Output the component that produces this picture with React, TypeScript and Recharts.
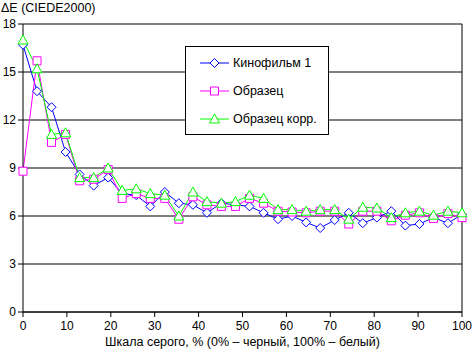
import React from 'react';
import { LineChart, Line, XAxis, YAxis, CartesianGrid, Legend, ReferenceLine } from 'recharts';

// gray level, % (32 steps)
const grayLevels = [
  0, 3.2, 6.5, 9.7, 12.9, 16.1, 19.4, 22.6, 25.8, 29.0, 32.3, 35.5, 38.7, 41.9, 45.2, 48.4,
  51.6, 54.8, 58.1, 61.3, 64.5, 67.7, 71.0, 74.2, 77.4, 80.6, 83.9, 87.1, 90.3, 93.5, 96.8, 100,
];

// ΔE values
const filmValues = [
  16.7, 13.8, 12.8, 10.0, 8.6, 7.9, 8.4, 7.4, 7.3, 6.6, 7.5, 6.8, 6.7, 6.2, 6.8, 6.7,
  6.6, 6.2, 5.8, 6.0, 5.6, 5.25, 5.75, 6.2, 5.55, 5.9, 6.3, 5.4, 5.5, 5.9, 5.55, 6.1,
];
const sampleValues = [
  8.8, 15.7, 10.6, 11.1, 8.2, 8.3, 8.9, 7.1, 7.4, 7.1, 7.1, 5.8, 7.2, 6.7, 6.6, 6.6,
  7.1, 6.8, 6.3, 6.25, 6.2, 6.3, 6.3, 5.5, 6.3, 6.3, 5.7, 6.05, 6.2, 5.85, 6.15, 5.9,
];
const sampleCorrValues = [
  17.0, 15.2, 11.1, 11.2, 8.4, 8.4, 9.0, 7.6, 7.7, 7.4, 7.3, 6.0, 7.5, 6.9, 6.8, 6.9,
  7.3, 7.1, 6.4, 6.4, 6.3, 6.4, 6.4, 5.8, 6.55, 6.5, 5.9, 6.2, 6.3, 6.05, 6.3, 6.2,
];

const xTicks = [0, 10, 20, 30, 40, 50, 60, 70, 80, 90, 100];
const yTicks = [0, 3, 6, 9, 12, 15, 18];

const seriesNames = ['Кинофильм 1', 'Образец', 'Образец корр.'];
const seriesColors = ['#0000ff', '#ff00ff', '#00ff00'];
const seriesShapes = ['diamond', 'square', 'triangle'];

const FONT = '"Liberation Sans", Arial, sans-serif';

const data = grayLevels.map((x, i) => ({
  x,
  film: filmValues[i],
  sample: sampleValues[i],
  corr: sampleCorrValues[i],
}));

const Marker = ({ cx, cy, shape, color }: { cx: number; cy: number; shape: string; color: string }) => {
  let d = '';
  if (shape === 'diamond') d = `M${cx},${cy - 4.5}L${cx + 4.5},${cy}L${cx},${cy + 4.5}L${cx - 4.5},${cy}Z`;
  else if (shape === 'square') d = `M${cx - 4},${cy - 4}H${cx + 4}V${cy + 4}H${cx - 4}Z`;
  else d = `M${cx},${cy - 5}L${cx + 5},${cy + 4}H${cx - 5}Z`;
  return <path d={d} fill="#fff" stroke={color} strokeWidth={1} />;
};

const renderDot = (shape: string, color: string) => (p: any) =>
  <Marker key={p.index} cx={p.cx} cy={p.cy} shape={shape} color={color} />;

const LegendBox = () => (
  <div
    style={{
      width: 144,
      height: 89,
      boxSizing: 'border-box',
      border: '1px solid #000',
      background: '#fff',
      paddingTop: 2,
      fontFamily: FONT,
      fontSize: 12.5,
      color: '#000',
    }}
  >
    {seriesNames.map((name, i) => (
      <div key={name} style={{ display: 'flex', alignItems: 'center', height: 28 }}>
        <svg width={30} height={14} style={{ marginLeft: 14 }}>
          <line x1={0} y1={7} x2={29} y2={7} stroke={seriesColors[i]} />
          <Marker cx={14.5} cy={7} shape={seriesShapes[i]} color={seriesColors[i]} />
        </svg>
        <span style={{ marginLeft: 3 }}>{name}</span>
      </div>
    ))}
  </div>
);

export default function App() {
  return (
    <div style={{ position: 'absolute', left: 0, top: 0, background: '#fff' }}>
      <LineChart width={472} height={353} data={data} margin={{ top: 24, right: 10, bottom: 0, left: 0 }}>
        <CartesianGrid vertical={false} stroke="#000" />
        <XAxis
          dataKey="x"
          type="number"
          domain={[0, 100]}
          ticks={xTicks}
          height={41}
          axisLine={{ stroke: '#000' }}
          tickLine={{ stroke: '#000' }}
          tickSize={5}
          tickMargin={4}
          tick={{ fill: '#000', fontSize: 12, fontFamily: FONT }}
          label={{
            value: 'Шкала серого, % (0% – черный, 100% – белый)',
            position: 'insideBottom',
            offset: 7,
            fill: '#000',
            fontSize: 12.5,
            fontFamily: FONT,
          }}
        />
        <YAxis
          type="number"
          domain={[0, 18]}
          ticks={yTicks}
          width={23}
          axisLine={{ stroke: '#000' }}
          tickLine={{ stroke: '#000' }}
          tickSize={5}
          tickMargin={2}
          tick={{ fill: '#000', fontSize: 12, fontFamily: FONT }}
          label={{
            content: () => (
              <text x={1} y={12} fill="#000" fontSize={12.5} fontFamily={FONT}>
                ΔE (CIEDE2000)
              </text>
            ),
          }}
        />
        <ReferenceLine x={100} stroke="#000" />
        <Line
          dataKey="film"
          name={seriesNames[0]}
          stroke={seriesColors[0]}
          strokeWidth={1}
          dot={renderDot(seriesShapes[0], seriesColors[0])}
          isAnimationActive={false}
        />
        <Line
          dataKey="sample"
          name={seriesNames[1]}
          stroke={seriesColors[1]}
          strokeWidth={1}
          dot={renderDot(seriesShapes[1], seriesColors[1])}
          isAnimationActive={false}
        />
        <Line
          dataKey="corr"
          name={seriesNames[2]}
          stroke={seriesColors[2]}
          strokeWidth={1}
          dot={renderDot(seriesShapes[2], seriesColors[2])}
          isAnimationActive={false}
        />
        <Legend
          layout="vertical"
          align="center"
          verticalAlign="middle"
          content={() => <LegendBox />}
          wrapperStyle={{ left: 185, top: 46, width: 144, height: 89 }}
        />
      </LineChart>
    </div>
  );
}
